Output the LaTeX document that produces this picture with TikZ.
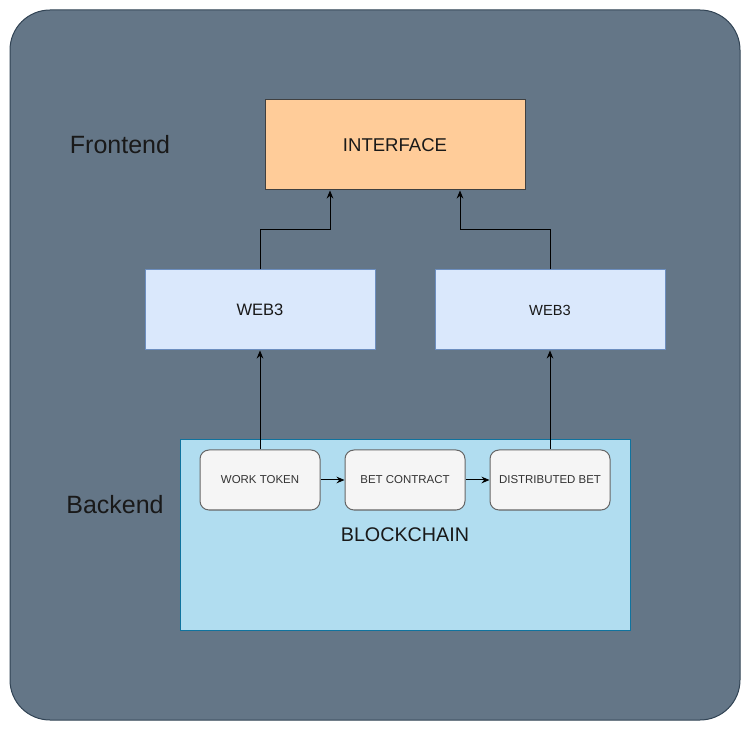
\documentclass[tikz,border=0pt]{standalone}
\usepackage{fontspec}
\setmainfont{Liberation Sans}
\usetikzlibrary{arrows.meta}
\definecolor{slate}{HTML}{647687}
\definecolor{slateline}{HTML}{314354}
\definecolor{peach}{HTML}{FFCC99}
\definecolor{paleblue}{HTML}{DAE8FC}
\definecolor{paleblueline}{HTML}{6C8EBF}
\definecolor{chainblue}{HTML}{B1DDF0}
\definecolor{chainline}{HTML}{10739E}
\definecolor{tokengray}{HTML}{F5F5F5}
\definecolor{tokenline}{HTML}{666666}
\begin{document}
\begin{tikzpicture}[x=7.5pt,y=-7.5pt,line width=.75pt,
  layer/.style={font=\fontsize{18.75}{22}\selectfont,text=black!90},
  webbox/.style={draw=paleblueline,fill=paleblue,minimum width=172.5pt,
   minimum height=60pt,inner sep=0pt,text=black!90},
  tokenbox/.style={draw=tokenline,fill=tokengray,rounded corners=6.75pt,
   minimum width=90pt,minimum height=45pt,inner sep=0pt,text=black!80,
   font=\fontsize{8.6}{10}\selectfont},
  flow/.style={-{Stealth[length=6pt,width=5pt]}}]
            \useasboundingbox (0,0) rectangle (75.1,73.1);
            \draw[draw=slateline,fill=slate,rounded corners=30pt]
             (1,1) rectangle (74,72);
            \draw (12,14.5) node[layer] (front) {Frontend};
            \draw (11.5,50.5) node[layer] (back) {Backend};
            \draw (39.5,14.5) node[draw=black!75,fill=peach,
             minimum width=195pt,minimum height=67.5pt,inner sep=0pt,
             text=black!90,font=\fontsize{13.9}{16}\selectfont] (if) {INTERFACE};
            \draw (26,31) node[webbox,font=\fontsize{12.4}{14}\selectfont] (wl) {WEB3};
            \draw (55,31) node[webbox,font=\fontsize{11}{13}\selectfont] (wr) {WEB3};
            \draw (40.5,53.5) node[draw=chainline,fill=chainblue,
             minimum width=337.5pt,minimum height=142.5pt,inner sep=0pt,
             text=black!90,font=\fontsize{14.8}{17}\selectfont] (chain) {BLOCKCHAIN};
            \draw (26,48) node[tokenbox] (wt) {WORK TOKEN};
            \draw (40.5,48) node[tokenbox] (bc) {BET CONTRACT};
            \draw (55,48) node[tokenbox] (db) {DISTRIBUTED BET};
            \draw[flow] (wt)--(bc);
            \draw[flow] (bc)--(db);
            \draw[flow] (wt.north)--(wl.south);
            \draw[flow] (db.north)--(wr.south);
            \draw[flow] (wl.north)--++(0,-4) -| ([xshift=-48.75pt]if.south);
            \draw[flow] (wr.north)--++(0,-4) -| ([xshift=48.75pt]if.south);
        \end{tikzpicture}
\end{document}
